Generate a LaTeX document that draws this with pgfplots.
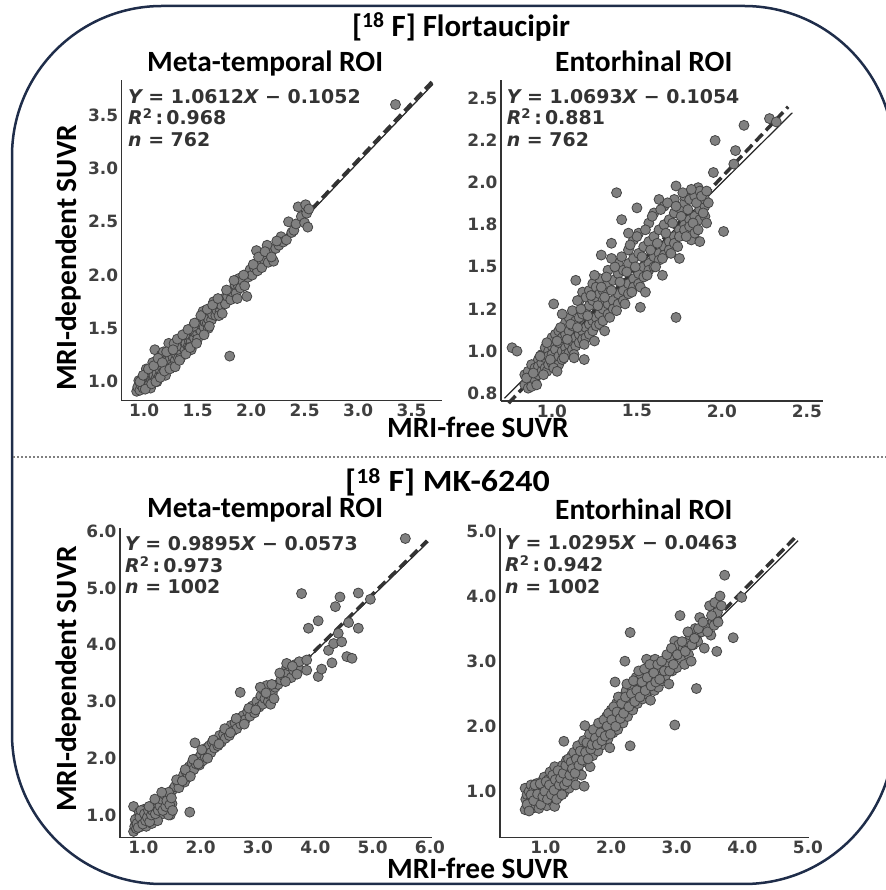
\documentclass[border=0pt]{standalone}
\usepackage{pgfplots}
\pgfplotsset{compat=1.18}
\usepackage{pgfplotstable}
\usepackage{fontspec}
\setmainfont{Carlito}
\newfontfamily\dejab{DejaVu Sans}
\definecolor{navyb}{HTML}{1F2D4A}
\definecolor{tickg}{HTML}{404040}
\definecolor{annog}{HTML}{333333}
\definecolor{mfill}{HTML}{808080}
\definecolor{medge}{HTML}{444444}
\definecolor{axg}{HTML}{333333}

\pgfplotstableread{
x y
0.93 0.91
0.94 0.95
0.95 1.01
0.96 0.92
0.97 0.97
0.98 1.03
0.99 0.94
1.00 0.99
1.01 1.05
1.02 0.96
1.03 1.00
1.04 1.07
1.05 0.98
1.06 1.03
1.07 1.10
1.08 1.00
1.09 1.06
1.10 1.13
1.11 1.03
1.12 1.08
1.13 1.16
1.14 1.05
1.15 1.11
1.16 1.20
1.17 1.08
1.18 1.14
1.19 1.24
1.20 1.12
1.21 1.18
1.22 1.26
1.23 1.14
1.24 1.21
1.25 1.29
1.26 1.17
1.27 1.23
1.28 1.33
1.29 1.20
1.30 1.26
1.31 1.35
1.32 1.22
1.33 1.30
1.34 1.38
1.35 1.27
1.36 1.33
1.37 1.40
1.38 1.30
1.39 1.36
1.40 1.44
1.41 1.33
1.42 1.39
1.43 1.47
1.44 1.38
1.45 1.43
1.46 1.50
1.47 1.41
1.48 1.46
1.49 1.53
1.50 1.45
1.51 1.50
1.52 1.57
1.53 1.48
1.54 1.53
1.55 1.60
1.56 1.51
1.57 1.56
1.58 1.63
1.59 1.55
1.60 1.59
1.62 1.66
1.63 1.58
1.64 1.63
1.66 1.70
1.67 1.62
1.68 1.67
1.70 1.73
1.71 1.66
1.72 1.72
1.74 1.78
1.76 1.73
1.78 1.80
1.80 1.85
1.81 1.77
1.83 1.84
1.85 1.91
1.86 1.83
1.88 1.90
1.89 1.97
1.90 1.88
1.92 1.95
1.94 1.90
1.96 1.80
1.97 1.98
1.99 2.05
2.01 2.00
2.03 2.07
2.05 2.23
2.06 2.04
2.08 2.10
2.10 2.07
2.12 2.15
2.15 2.28
2.16 2.12
2.18 2.20
2.21 2.13
2.23 2.25
2.26 2.28
2.28 2.36
2.30 2.31
2.33 2.33
2.35 2.50
2.38 2.40
2.40 2.42
2.42 2.48
2.44 2.64
2.47 2.55
2.50 2.49
2.51 2.66
2.52 2.58
2.54 2.62
2.53 2.45
1.80 1.24
3.35 3.60
1.00 1.06
1.02 1.12
1.06 0.94
1.10 1.30
1.12 1.00
1.16 1.25
1.20 1.06
1.23 1.36
1.26 1.14
1.30 1.33
1.34 1.22
1.38 1.44
1.42 1.32
1.46 1.52
1.44 1.30
1.50 1.40
1.55 1.66
1.60 1.50
1.65 1.75
1.70 1.62
1.14 1.20
1.18 1.28
1.28 1.36
1.08 1.18
0.96 1.00
0.99 1.06
1.01 0.93
1.04 1.12
1.07 0.98
1.09 1.15
1.11 1.00
1.13 1.22
1.15 1.04
1.17 1.18
1.19 1.10
1.21 1.28
1.24 1.12
1.27 1.30
1.29 1.14
1.31 1.40
1.33 1.20
1.36 1.44
1.39 1.26
1.41 1.49
1.43 1.32
1.47 1.55
1.49 1.36
1.53 1.62
1.56 1.44
1.59 1.68
1.61 1.52
1.64 1.72
1.69 1.78
1.73 1.64
1.77 1.86
1.84 1.95
1.87 1.78
1.93 2.00
2.02 2.10
2.07 2.17
2.13 2.22
2.19 2.17
2.24 2.32
}\dataA

\pgfplotstableread{
x y
0.765 1.02
0.794 1.00
0.84 0.80
0.84 0.86
0.86 0.78
0.86 0.88
0.87 0.83
0.88 0.84
0.88 0.92
0.88 0.79
0.90 0.90
0.90 0.83
0.92 0.86
0.92 0.95
0.92 0.91
0.94 0.88
0.94 0.98
0.94 0.93
0.96 0.90
0.96 0.96
0.96 1.02
0.97 0.88
0.98 0.92
0.98 1.00
0.98 0.97
1.00 0.93
1.00 1.03
1.00 1.08
1.00 0.98
1.01 1.28
1.02 0.95
1.02 1.01
1.02 1.10
1.04 0.97
1.04 1.05
1.04 1.12
1.04 0.92
1.06 1.00
1.06 1.08
1.06 0.95
1.08 1.02
1.08 1.10
1.08 1.17
1.08 0.98
1.10 1.04
1.10 1.12
1.10 0.99
1.10 1.20
1.12 1.06
1.12 1.15
1.12 1.01
1.12 1.24
1.14 1.08
1.14 1.18
1.14 1.03
1.14 1.42
1.16 1.10
1.16 1.20
1.16 1.05
1.16 1.30
1.18 1.12
1.18 1.22
1.18 1.07
1.18 1.35
1.19 0.95
1.20 1.14
1.20 1.25
1.20 1.08
1.20 1.32
1.22 1.16
1.22 1.27
1.22 1.10
1.22 1.36
1.24 1.18
1.24 1.30
1.24 1.12
1.24 1.40
1.26 1.20
1.26 1.32
1.26 1.15
1.26 1.38
1.28 1.22
1.28 1.34
1.28 1.16
1.28 1.43
1.29 1.57
1.30 1.25
1.30 1.36
1.30 1.18
1.30 1.30
1.33 1.28
1.33 1.40
1.33 1.22
1.33 1.48
1.35 1.64
1.36 1.30
1.36 1.42
1.36 1.25
1.38 1.94
1.39 1.34
1.39 1.46
1.39 1.28
1.39 1.52
1.41 1.78
1.42 1.36
1.42 1.48
1.42 1.30
1.45 1.40
1.45 1.52
1.45 1.34
1.45 1.60
1.48 1.43
1.48 1.55
1.48 1.38
1.48 1.66
1.50 1.85
1.51 1.46
1.51 1.58
1.51 1.40
1.51 1.70
1.52 1.26
1.54 1.50
1.54 1.62
1.54 1.44
1.57 1.52
1.57 1.65
1.57 1.48
1.57 1.76
1.60 1.56
1.60 1.68
1.60 1.50
1.60 1.82
1.63 1.58
1.63 1.72
1.63 1.54
1.63 1.90
1.66 1.62
1.66 1.75
1.66 1.57
1.66 1.86
1.69 1.65
1.69 1.78
1.69 1.60
1.72 1.68
1.72 1.82
1.72 1.64
1.72 1.90
1.73 1.98
1.73 1.20
1.75 1.72
1.75 1.85
1.75 1.68
1.78 1.75
1.78 1.88
1.78 1.72
1.78 1.92
1.81 1.78
1.81 1.90
1.81 1.74
1.82 1.66
1.84 1.80
1.84 1.92
1.84 1.70
1.86 1.97
1.87 1.84
1.87 1.95
1.87 1.78
1.87 1.65
1.90 1.86
1.90 1.90
1.90 1.80
1.92 1.88
1.95 2.06
1.96 2.25
2.01 1.71
2.07 2.11
2.08 2.19
2.13 2.34
2.28 2.38
2.32 2.36
0.85 0.84
0.89 0.87
0.91 0.80
0.93 0.97
0.95 0.86
0.97 1.05
0.99 0.95
1.01 0.90
1.03 1.06
1.05 1.14
1.07 0.96
1.09 1.07
1.11 1.16
1.13 0.98
1.15 1.14
1.17 1.25
1.19 1.04
1.21 1.21
1.23 1.33
1.25 1.06
1.27 1.27
1.29 1.38
1.31 1.12
1.31 1.32
1.32 1.44
1.34 1.20
1.35 1.36
1.37 1.50
1.38 1.24
1.40 1.41
1.41 1.56
1.43 1.28
1.44 1.47
1.46 1.63
1.47 1.35
1.49 1.50
1.50 1.68
1.52 1.38
1.53 1.56
1.55 1.72
1.56 1.45
1.58 1.60
1.59 1.80
1.61 1.50
1.62 1.64
1.64 1.84
1.65 1.55
1.67 1.70
1.68 1.88
1.70 1.58
1.71 1.76
1.73 1.86
1.74 1.62
1.76 1.80
1.77 1.94
1.79 1.68
1.80 1.84
1.82 1.96
1.83 1.76
1.85 1.88
1.86 1.72
1.88 1.92
1.89 1.82
1.91 1.95
1.91 1.76
1.06 1.22
1.15 1.30
1.25 1.45
1.45 1.70
1.35 1.55
1.55 1.35
1.65 1.45
1.75 1.55
1.03 0.88
1.13 0.96
}\dataB

\pgfplotstableread{
x y
0.83 0.71
0.83 1.15
0.85 0.80
0.87 0.88
0.88 0.76
0.90 0.95
0.92 0.83
0.93 1.05
0.95 0.90
0.97 0.80
0.98 1.00
1.00 0.88
1.01 1.10
1.03 0.95
1.05 1.03
1.06 0.86
1.08 1.12
1.10 0.98
1.12 1.05
1.13 0.92
1.15 1.15
1.17 1.02
1.18 1.10
1.20 0.96
1.22 1.20
1.23 1.06
1.25 1.14
1.27 1.00
1.28 1.25
1.30 1.10
1.32 1.18
1.33 1.02
1.35 1.30
1.36 1.15
1.38 1.22
1.40 1.05
1.42 1.35
1.43 1.12
1.45 1.28
1.47 1.00
1.48 1.40
1.50 1.20
1.52 1.45
1.44 1.00
1.05 0.80
1.15 0.85
1.25 0.90
1.81 1.05
1.55 1.50
1.60 1.58
1.62 1.48
1.65 1.62
1.70 1.70
1.72 1.58
1.75 1.75
1.78 1.68
1.80 1.85
1.83 1.75
1.85 1.92
1.88 1.80
1.90 2.27
1.92 1.90
1.95 2.00
1.98 1.88
2.00 2.05
2.03 1.95
2.05 2.12
2.08 2.02
2.10 2.18
2.13 2.08
2.15 2.22
2.18 2.10
2.20 2.28
2.24 2.18
2.27 2.32
2.30 2.22
2.33 2.40
2.36 2.28
2.40 2.42
2.43 2.35
2.46 2.50
2.50 2.40
2.53 2.58
2.56 2.48
2.60 2.62
2.63 2.52
2.66 2.70
2.69 3.16
2.70 2.60
2.74 2.75
2.78 2.68
2.82 2.82
2.86 2.74
2.90 2.92
2.94 2.80
2.98 3.00
3.02 2.90
3.05 3.10
3.08 2.95
3.10 3.20
3.12 3.05
3.15 3.28
3.18 3.00
3.20 3.12
3.22 2.95
3.25 3.15
3.30 3.25
3.35 3.30
3.40 3.38
3.45 3.45
3.50 3.60
3.52 3.50
3.55 3.62
3.58 3.42
3.62 3.55
3.65 3.65
3.70 3.58
3.72 3.70
3.50 3.67
3.76 4.90
3.85 3.73
3.85 3.55
3.88 4.29
4.05 4.42
4.05 3.44
4.11 3.57
4.23 3.90
4.29 3.68
4.32 4.02
4.35 4.67
4.40 4.20
4.43 4.84
4.46 4.05
4.55 3.79
4.58 4.39
4.64 3.76
4.75 4.91
4.75 4.29
4.96 4.80
5.57 5.87
0.86 0.92
0.89 0.85
0.91 0.78
0.94 0.96
0.96 1.08
0.99 0.84
1.02 1.02
1.04 0.90
1.07 0.96
1.09 1.08
1.11 0.88
1.14 1.00
1.16 1.08
1.19 1.18
1.21 1.02
1.24 1.26
1.26 1.08
1.29 1.16
1.31 1.28
1.34 1.08
1.37 1.36
1.39 1.15
1.41 1.25
1.44 1.40
1.46 1.18
1.49 1.30
1.51 1.08
1.10 1.15
1.20 1.28
1.32 1.40
1.58 1.62
1.68 1.60
1.73 1.80
1.82 1.68
1.87 1.98
1.96 1.90
2.02 2.15
2.12 2.00
2.22 2.32
2.32 2.25
2.42 2.52
2.52 2.45
2.62 2.70
2.76 2.60
2.84 2.88
2.96 2.85
3.04 3.25
3.14 3.15
3.24 3.30
3.28 3.05
3.38 3.50
3.48 3.35
3.60 3.62
3.68 3.48
}\dataC

\pgfplotstableread{
x y
0.69 0.72
0.69 1.05
0.70 0.88
0.72 0.95
0.74 0.78
0.75 1.00
0.77 0.85
0.78 1.10
0.80 0.74
0.80 0.92
0.82 1.02
0.84 0.80
0.85 0.96
0.86 1.12
0.88 0.86
0.90 1.05
0.90 0.74
0.92 0.94
0.94 1.15
0.95 0.82
0.97 1.00
0.98 1.22
1.00 0.90
1.00 1.08
1.02 0.78
1.04 1.18
1.05 0.96
1.07 1.30
1.08 1.05
1.10 0.85
1.12 1.12
1.14 0.77
1.14 1.38
1.16 1.00
1.18 1.22
1.20 0.92
1.22 1.30
1.24 1.08
1.26 1.40
1.28 0.98
1.28 1.77
1.30 1.18
1.32 1.48
1.34 1.28
1.36 1.05
1.38 1.38
1.40 1.55
1.42 1.20
1.44 1.45
1.46 1.10
1.48 1.62
1.50 1.32
1.52 1.50
1.55 1.25
1.57 1.68
1.59 1.08
1.60 2.01
1.62 1.45
1.64 1.58
1.66 1.75
1.68 1.38
1.70 1.85
1.72 1.55
1.75 1.70
1.78 1.95
1.80 1.62
1.82 1.82
1.85 2.05
1.88 1.72
1.90 1.92
1.93 2.15
1.95 1.80
1.98 1.67
1.98 2.02
2.00 2.25
2.03 1.90
2.06 2.68
2.06 2.10
2.08 2.35
2.10 1.95
2.12 2.20
2.15 2.45
2.18 2.05
2.21 3.00
2.20 2.30
2.23 2.55
2.25 2.15
2.28 2.40
2.29 3.44
2.29 1.70
2.30 2.62
2.33 2.25
2.35 2.50
2.38 2.75
2.40 2.35
2.43 2.58
2.45 2.80
2.48 2.42
2.50 2.65
2.54 3.03
2.53 2.50
2.56 2.85
2.58 2.60
2.60 2.40
2.62 2.72
2.64 2.95
2.67 3.03
2.66 2.55
2.70 2.80
2.72 2.60
2.75 2.90
2.78 2.70
2.80 3.00
2.83 2.78
2.86 2.95
2.88 2.65
2.90 3.05
2.93 2.85
2.97 3.31
2.97 2.02
2.98 3.15
3.00 2.90
3.03 3.25
3.05 3.70
3.06 3.05
3.10 3.20
3.12 2.95
3.15 3.30
3.18 3.10
3.20 3.40
3.22 3.00
3.25 3.25
3.28 3.50
3.30 2.58
3.32 3.30
3.35 3.67
3.38 3.45
3.42 3.20
3.45 3.55
3.50 3.85
3.52 3.40
3.55 3.60
3.58 3.90
3.61 3.15
3.62 3.75
3.66 4.00
3.68 3.85
3.73 4.32
3.86 3.36
3.99 3.98
0.72 0.80
0.75 0.70
0.78 0.95
0.82 0.86
0.84 1.10
0.88 0.96
0.92 1.12
0.93 0.80
0.96 0.92
0.99 1.00
1.01 1.15
1.03 0.88
1.06 1.10
1.09 0.95
1.11 1.25
1.13 1.02
1.15 1.18
1.17 0.88
1.19 1.32
1.21 1.10
1.23 1.20
1.25 0.95
1.27 1.28
1.29 1.10
1.31 1.40
1.33 1.15
1.35 1.50
1.37 1.25
1.39 1.45
1.41 1.35
1.43 1.60
1.45 1.28
1.47 1.50
1.49 1.70
1.51 1.40
1.53 1.62
1.56 1.48
1.58 1.78
1.61 1.60
1.63 1.75
1.65 1.50
1.67 1.88
1.69 1.65
1.71 1.72
1.73 1.95
1.76 1.82
1.79 1.72
1.81 2.05
1.84 1.90
1.86 1.78
1.89 2.10
1.91 1.85
1.94 2.00
1.96 2.20
1.99 1.88
2.01 2.10
2.04 2.30
2.07 2.00
2.09 2.22
2.11 2.45
2.14 2.12
2.16 2.35
2.19 2.20
2.22 2.45
2.24 2.65
2.27 2.30
2.31 2.50
2.34 2.70
2.36 2.38
2.39 2.55
2.42 2.85
2.44 2.45
2.47 2.68
2.51 2.88
2.52 2.55
2.55 2.75
2.59 2.95
2.61 2.62
2.65 2.82
2.68 2.68
2.71 2.95
2.74 2.72
2.77 3.00
2.81 2.85
2.85 3.10
2.89 2.85
2.92 3.20
2.95 2.95
3.01 3.10
3.08 3.30
3.13 3.15
3.17 3.45
3.23 3.25
3.27 3.35
3.33 3.50
3.40 3.60
3.47 3.45
3.53 3.70
3.57 3.55
3.63 3.60
}\dataD

\pgfplotsset{
  myax/.style={
    anchor=south west, scale only axis,
    axis lines=left, axis line style={-, line width=1.5bp, color=axg},
    major tick length=0pt, tick style={draw=none},
    ticklabel style={font=\dejab\bfseries\fontsize{17}{17}\selectfont, text=tickg},
    clip=false,
  },
  pts/.style={only marks, mark=*, mark size=5bp,
    mark options={fill=mfill, draw=medge, line width=0.8bp}},
  dashl/.style={line width=3.5bp, color=annog, dash pattern=on 10bp off 5bp},
  soll/.style={line width=1.2bp, color=black!85},
}
\newcommand{\ttl}{\fontsize{29.5}{30}\selectfont\bfseries}
\newcommand{\ttlb}{\fontsize{31}{32}\selectfont\bfseries}
\newcommand{\ann}{\dejab\bfseries\fontsize{19}{19}\selectfont\color{annog}}

\begin{document}
\begin{tikzpicture}
\useasboundingbox (0bp,0bp) rectangle (886bp,890bp);
\begin{scope}
\clip (0bp,0bp) rectangle (886bp,890bp);
\draw[rounded corners=150bp, line width=2.5bp, color=navyb] (12bp,884bp) rectangle (894bp,6bp);
\end{scope}
\draw[gray, line width=1.2bp, dash pattern=on 1.5bp off 2.5bp] (13bp,433bp) -- (886bp,433bp);

% Titles
\node[anchor=base west, inner sep=0] at (352bp,853.3bp) {\ttlb [\textsuperscript{18}~F] Flortaucipir};
\node[anchor=base west, inner sep=0, xscale=1.1] at (345bp,398bp) {\ttlb [\textsuperscript{18}~F] MK-6240};
\node[anchor=base west, inner sep=0] at (147bp,818bp) {\ttl Meta-temporal ROI};
\node[anchor=base west, inner sep=0] at (555bp,818bp) {\ttl Entorhinal ROI};
\node[anchor=base west, inner sep=0] at (147bp,372bp) {\ttl Meta-temporal ROI};
\node[anchor=base west, inner sep=0] at (555bp,370bp) {\ttl Entorhinal ROI};
\node[anchor=base west, inner sep=0] at (387bp,452bp) {\ttl MRI-free SUVR};
\node[anchor=base west, inner sep=0] at (387bp,12bp) {\ttl MRI-free SUVR};
\node[anchor=base, rotate=90, inner sep=0] at (76bp,632bp) {\ttl MRI-dependent SUVR};
\node[anchor=base, rotate=90, inner sep=0] at (76bp,211bp) {\ttl MRI-dependent SUVR};

% Panel 1
\begin{axis}[myax, at={(121.7bp,489.3bp)}, width=320.3bp, height=320.7bp,
  xmin=0.79, xmax=3.785, ymin=0.822, ymax=3.83,
  xtick={1,1.5,2,2.5,3,3.5}, xticklabels={1.0,1.5,2.0,2.5,3.0,3.5},
  ytick={1,1.5,2,2.5,3,3.5}, yticklabels={1.0,1.5,2.0,2.5,3.0,3.5}]
\addplot[pts] table {\dataA};
\addplot[soll] coordinates {(0.92,0.87) (3.70,3.79)};
\addplot[dashl] coordinates {(0.93,0.882) (3.69,3.811)};
\end{axis}
\node[anchor=base west, inner sep=0] at (128bp,786.7bp) {\ann {\itshape Y} = 1.0612{\itshape X} − 0.1052};
\node[anchor=base west, inner sep=0] at (128bp,765bp) {\ann {\itshape R}\textsuperscript{2}\,:\,0.968};
\node[anchor=base west, inner sep=0] at (128bp,743.3bp) {\ann {\itshape n} = 762};

% Panel 2
\begin{axis}[myax, at={(501bp,489bp)}, width=322bp, height=321bp,
  xmin=0.70, xmax=2.595, ymin=0.704, ymax=2.609,
  xtick={1,1.5,2,2.5}, xticklabels={1.0,1.5,2.0,2.5},
  ytick={0.75,1,1.25,1.5,1.75,2,2.25,2.5}, yticklabels={0.8,1.0,1.2,1.5,1.8,2.0,2.2,2.5}]
\addplot[pts] table {\dataB};
\addplot[soll] coordinates {(0.72,0.72) (2.415,2.415)};
\addplot[dashl] coordinates {(0.745,0.691) (2.39,2.450)};
\end{axis}
\node[anchor=base west, inner sep=0] at (506.7bp,786.7bp) {\ann {\itshape Y} = 1.0693{\itshape X} − 0.1054};
\node[anchor=base west, inner sep=0] at (506.7bp,765bp) {\ann {\itshape R}\textsuperscript{2}\,:\,0.881};
\node[anchor=base west, inner sep=0] at (506.7bp,743.3bp) {\ann {\itshape n} = 762};

% Panel 3
\begin{axis}[myax, at={(120bp,52.3bp)}, width=311.7bp, height=309.4bp,
  xmin=0.593, xmax=6.03, ymin=0.60, ymax=6.05,
  xtick={1,2,3,4,5,6}, xticklabels={1.0,2.0,3.0,4.0,5.0,6.0},
  ytick={1,2,3,4,5,6}, yticklabels={1.0,2.0,3.0,4.0,5.0,6.0}]
\addplot[pts] table {\dataC};
\addplot[soll] coordinates {(0.79,0.74) (5.97,5.81)};
\addplot[dashl] coordinates {(0.80,0.734) (5.95,5.830)};
\end{axis}
\node[anchor=base west, inner sep=0] at (125bp,339.3bp) {\ann {\itshape Y} = 0.9895{\itshape X} − 0.0573};
\node[anchor=base west, inner sep=0] at (125bp,317.6bp) {\ann {\itshape R}\textsuperscript{2}\,:\,0.973};
\node[anchor=base west, inner sep=0] at (125bp,296bp) {\ann {\itshape n} = 1002};

% Panel 4
\begin{axis}[myax, at={(500bp,52.3bp)}, width=309.3bp, height=309.4bp,
  xmin=0.307, xmax=5.02, ymin=0.29, ymax=5.04,
  xtick={1,2,3,4,5}, xticklabels={1.0,2.0,3.0,4.0,5.0},
  ytick={1,2,3,4,5}, yticklabels={1.0,2.0,3.0,4.0,5.0}]
\addplot[pts] table {\dataD};
\addplot[soll] coordinates {(0.68,0.68) (4.85,4.85)};
\addplot[dashl] coordinates {(0.69,0.664) (4.80,4.895)};
\end{axis}
\node[anchor=base west, inner sep=0] at (505bp,340bp) {\ann {\itshape Y} = 1.0295{\itshape X} − 0.0463};
\node[anchor=base west, inner sep=0] at (505bp,318.3bp) {\ann {\itshape R}\textsuperscript{2}\,:\,0.942};
\node[anchor=base west, inner sep=0] at (505bp,296.7bp) {\ann {\itshape n} = 1002};
\end{tikzpicture}
\end{document}
